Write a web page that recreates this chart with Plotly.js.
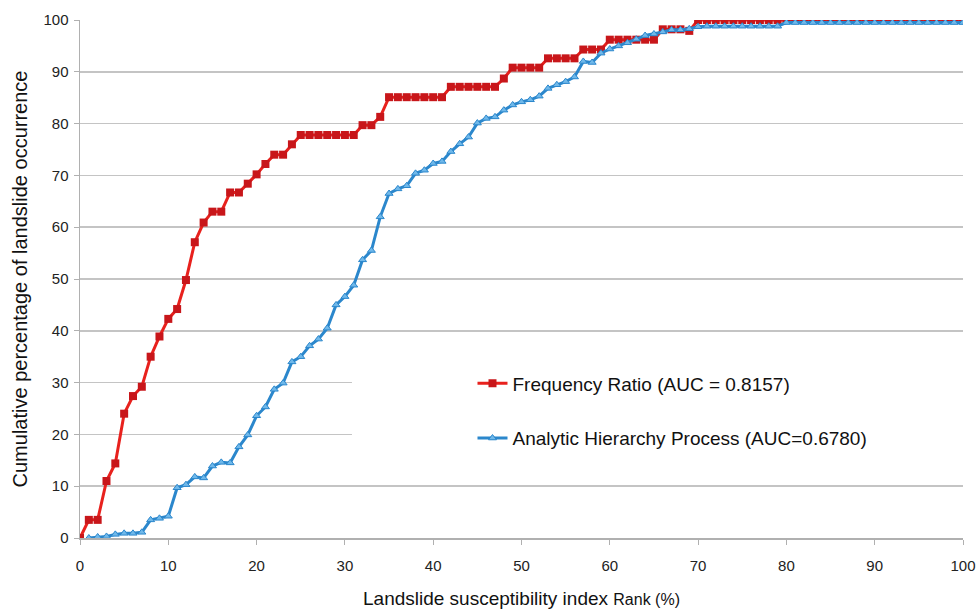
<!DOCTYPE html>
<html>
<head>
<meta charset="utf-8">
<script src="https://cdn.plot.ly/plotly-3.0.1.min.js"></script>
<style>html,body{margin:0;padding:0;background:#fff;}#chart{width:978px;height:609px;}</style>
</head>
<body>
<div id="chart"></div>
<script>
// Rank (%) for the Frequency Ratio curve
var rankFR = [0,1,2,3,4,5,6,7,8,9,10,11,12,13,14,15,16,17,18,19,20,21,22,23,24,25,26,27,28,29,30,31,32,33,34,35,36,37,38,39,40,41,42,43,44,45,46,47,48,49,50,51,52,53,54,55,56,57,58,59,60,61,62,63,64,65,66,67,68,69,70,71,72,73,74,75,76,77,78,79,80,81,82,83,84,85,86,87,88,89,90,91,92,93,94,95,96,97,98,99,100];
// Cumulative percentage of landslide occurrence, Frequency Ratio
var valuesFR = [0,3.5,3.5,11,14.4,24,27.4,29.2,35,38.9,42.3,44.2,49.8,57.1,60.9,63,63,66.7,66.7,68.4,70.2,72.2,74,74,76,77.8,77.8,77.8,77.8,77.8,77.8,77.8,79.7,79.7,81.3,85.1,
  85.1,85.1,85.1,85.1,85.1,85.1,
  87.1,87.1,87.1,87.1,87.1,87.1,
  88.7,
  90.8,90.8,90.8,90.8,
  92.6,92.6,92.6,92.6,
  94.3,94.3,94.3,
  96.2,96.2,96.2,96.2,96.2,96.2,
  98.2,98.2,98.2,97.9,
  100,100,100,100,100,100,100,100,100,100,100,100,100,100,100,100,100,100,100,100,100,100,100,100,100,100,100,100,100,100,100];
// Rank (%) for the AHP curve
var rankAHP = [1,2,3,4,5,6,7,8,9,10,11,12,13,14,15,16,17,18,19,20,21,22,23,24,25,26,27,28,29,30,31,32,33,34,35,36,37,38,39,40,41,42,43,44,45,46,47,48,49,50,51,52,53,54,55,56,57,58,59,60,61,62,63,64,65,66,67,68,69,70,71,72,73,74,75,76,77,78,79,80,81,82,83,84,85,86,87,88,89,90,91,92,93,94,95,96,97,98,99,100];
// Cumulative percentage of landslide occurrence, Analytic Hierarchy Process
var valuesAHP = [0,0.2,0.3,0.7,0.9,0.9,1.1,3.5,3.8,4.2,9.7,10.3,11.8,11.6,13.9,14.6,14.5,17.6,19.9,23.6,25.3,28.7,29.9,34,35,37.1,38.4,40.5,45,46.6,48.8,53.7,55.5,62,66.5,67.4,68,70.4,71,72.3,72.7,74.6,76.1,77.4,80.1,81,81.3,82.6,83.6,84.2,84.6,85.3,86.8,87.5,88.1,89,92,91.8,93.6,94.4,95,95.6,96.3,97,97.3,97.7,98.1,98.1,98.3,98.7,
  98.8,98.8,98.8,98.8,98.8,98.8,98.8,98.8,98.8,
  99.5,99.5,99.5,99.5,99.5,99.5,99.5,99.5,99.5,99.5,99.5,99.5,99.5,99.5,99.5,99.5,99.5,99.5,99.5,99.5,99.5];
var xTicks = [0,10,20,30,40,50,60,70,80,90,100];
var yTicks = [0,10,20,30,40,50,60,70,80,90,100];
var seriesNames = ['Frequency Ratio (AUC = 0.8157)', 'Analytic Hierarchy Process (AUC=0.6780)'];

var traces = [
  {x: rankFR, y: valuesFR, name: seriesNames[0], type: 'scatter', mode: 'lines+markers', legendgroup: 'fr',
   line: {color: '#e8211d', width: 3},
   marker: {symbol: 'square', size: 8, color: '#c8161a', line: {width: 0}}},
  {x: rankAHP, y: valuesAHP, name: seriesNames[1], type: 'scatter', mode: 'lines+markers', legendgroup: 'ahp',
   line: {color: '#2b87cc', width: 3},
   marker: {symbol: 'triangle-up', size: 7, color: '#6fb8ea', line: {width: 1, color: '#2b87cc'}}}
];

var font = 'Liberation Sans, Arial, sans-serif';
var layout = {
  width: 978, height: 609,
  margin: {l: 80, r: 15, t: 20, b: 71},
  paper_bgcolor: '#ffffff', plot_bgcolor: '#ffffff',
  font: {family: font, size: 14, color: '#222'},
  showlegend: true,
  legend: {x: 0.4445, y: 0.335, xanchor: 'left', yanchor: 'top', bgcolor: 'rgba(255,255,255,0)',
           font: {family: font, size: 19, color: '#111'}, tracegroupgap: 27, traceorder: 'grouped'},
  xaxis: {range: [0, 100], tickvals: xTicks, ticktext: xTicks.map(String), showgrid: false,
          showline: true, linecolor: '#b0b0b0', linewidth: 1.5, ticks: 'outside', ticklen: 5, tickcolor: '#b0b0b0',
          ticklabelstandoff: 8,
          tickfont: {family: font, size: 15, color: '#222'}, zeroline: false,
          title: {text: 'Landslide susceptibility index <span style="font-size:16px">Rank (%)</span>', font: {family: font, size: 19, color: '#111'}, standoff: 26}},
  yaxis: {range: [0, 100], tickvals: yTicks, ticktext: yTicks.map(String), showgrid: true, gridcolor: '#c4c4c4', gridwidth: 1.5,
          showline: true, linecolor: '#b0b0b0', linewidth: 1.5, ticks: 'outside', ticklen: 5, tickcolor: '#b0b0b0',
          ticklabelstandoff: 2,
          tickfont: {family: font, size: 15, color: '#222'}, zeroline: false,
          title: {text: 'Cumulative percentage of landslide occurrence', font: {family: font, size: 20, color: '#111'}, standoff: 10}},
  shapes: [{type: 'rect', xref: 'x', yref: 'y', x0: 30.8, x1: 100, y0: 12.4, y1: 38, fillcolor: '#ffffff', line: {width: 0}, layer: 'above'}]
};
Plotly.newPlot('chart', traces, layout, {displayModeBar: false, staticPlot: true});
</script>
</body>
</html>
